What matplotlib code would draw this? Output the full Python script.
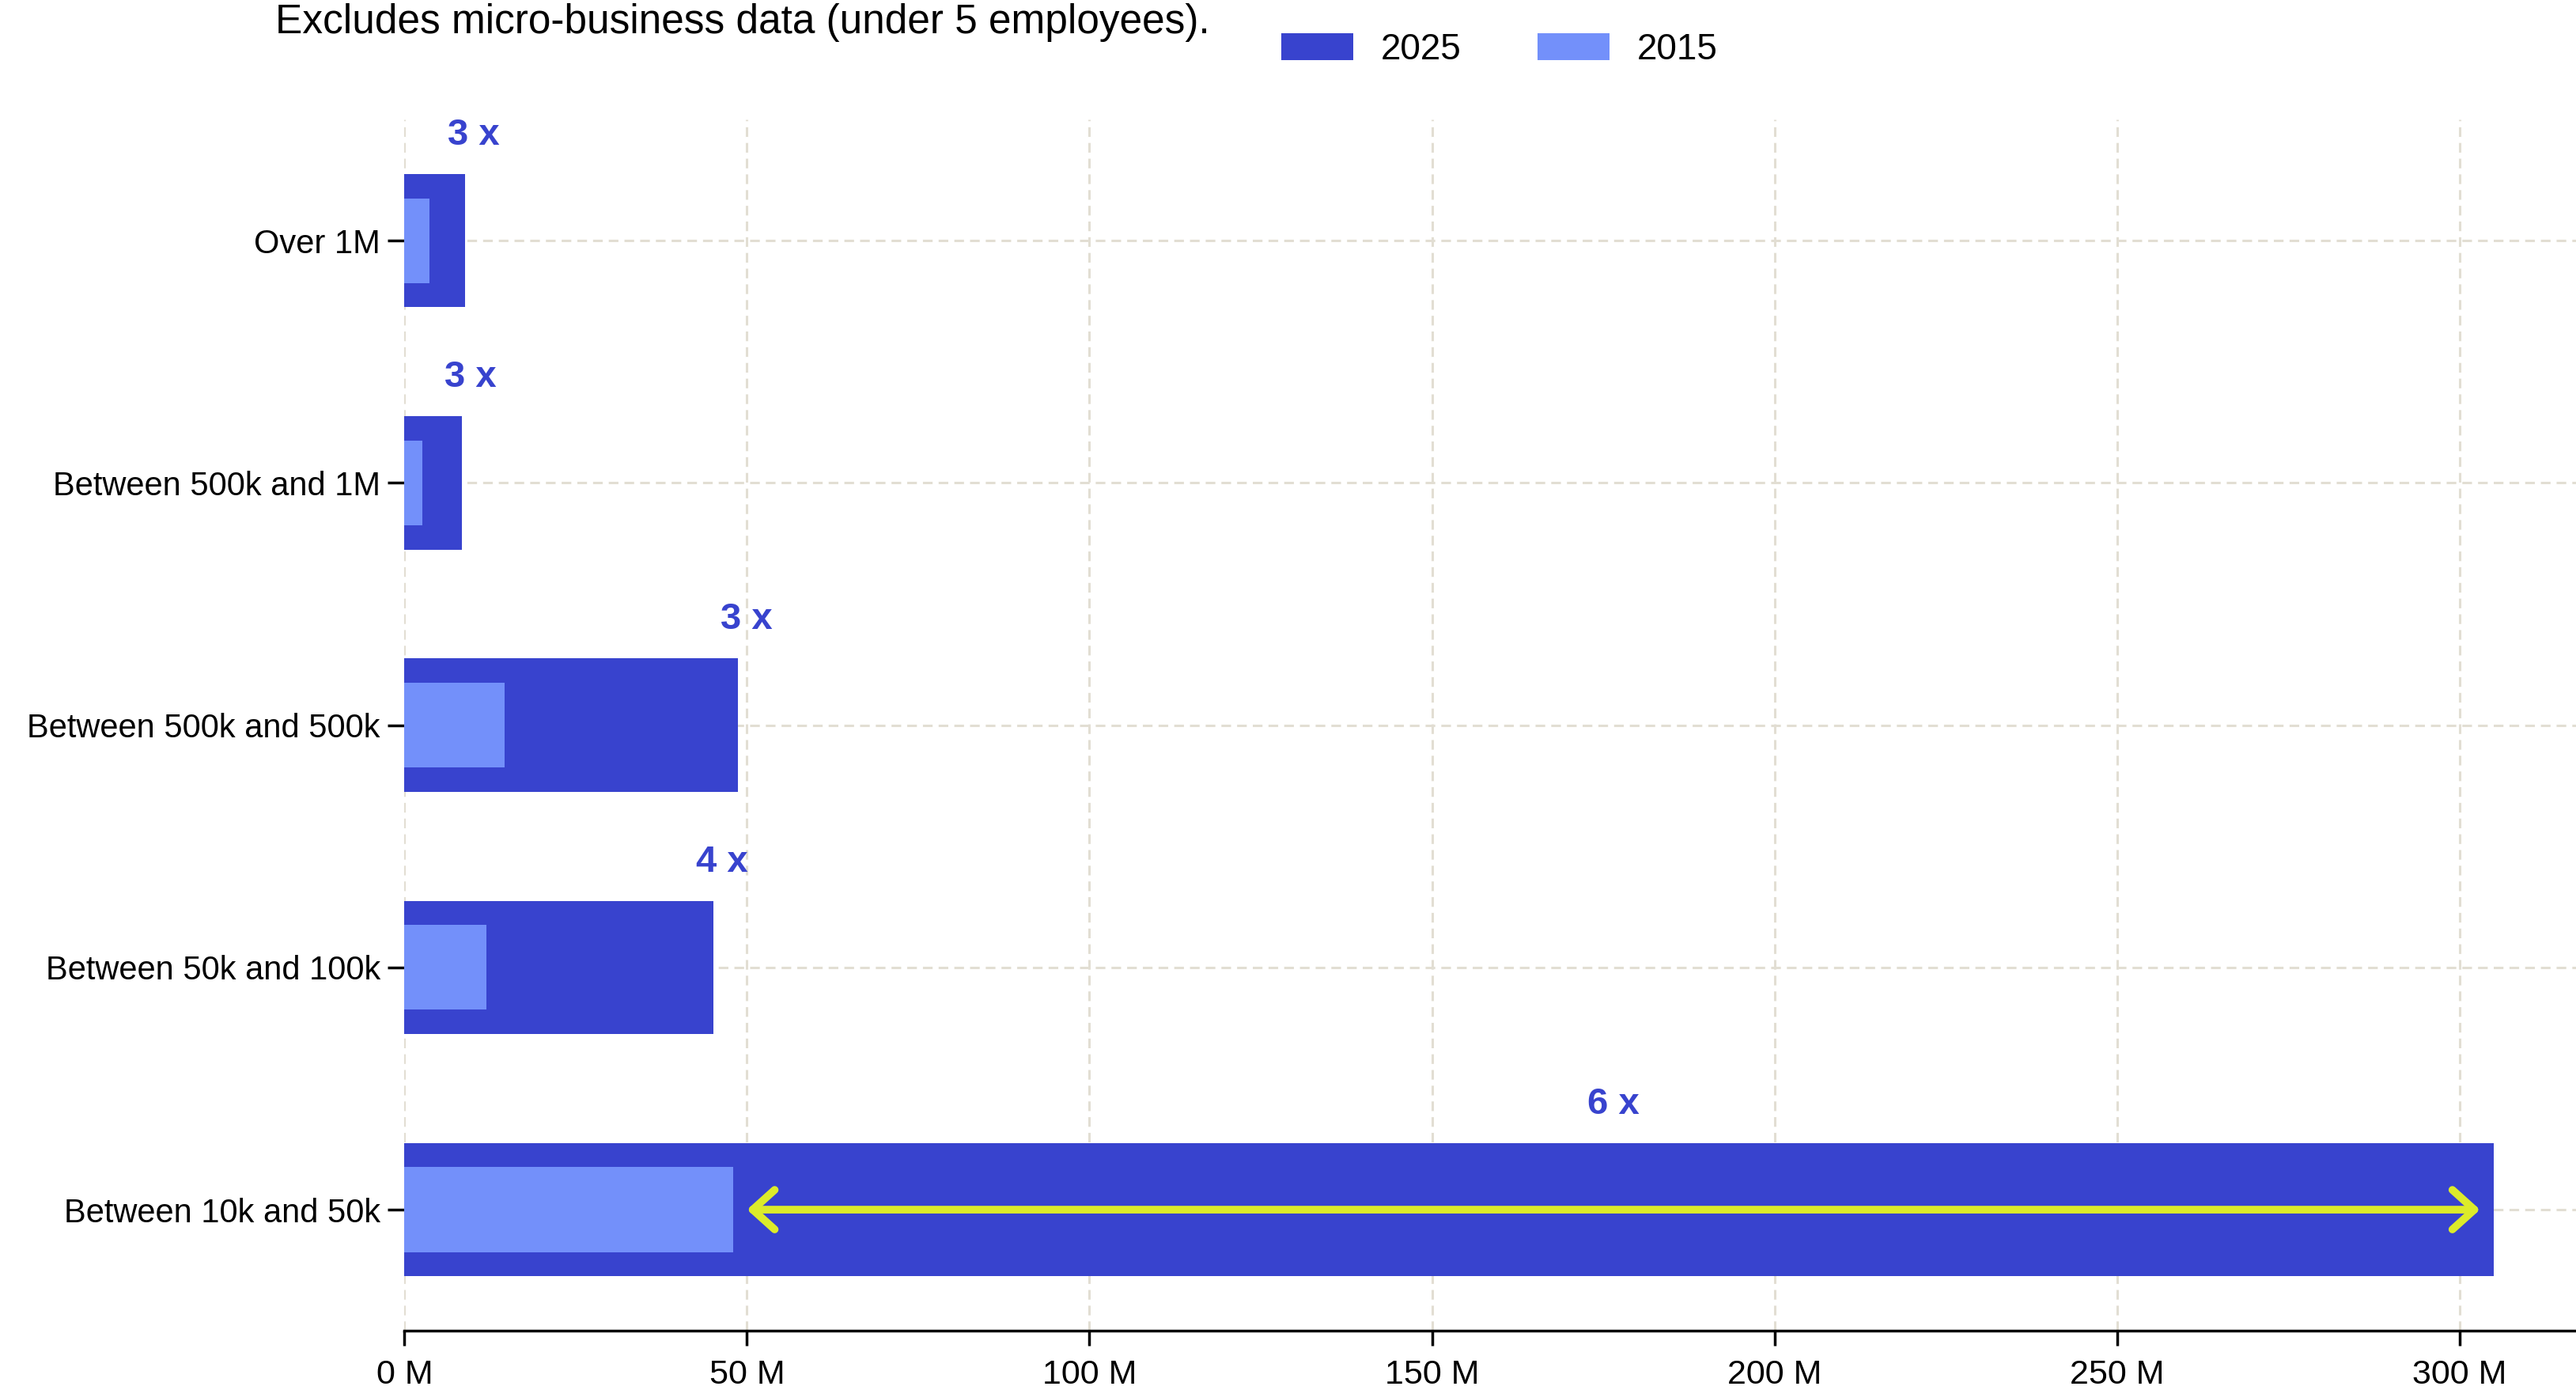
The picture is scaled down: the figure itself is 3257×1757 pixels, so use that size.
import numpy as np
import matplotlib
matplotlib.use('Agg')
import matplotlib.pyplot as plt

# revenue bands, top to bottom
bands = ["Over 1M", "Between 500k and 1M", "Between 500k and 500k",
         "Between 50k and 100k", "Between 10k and 50k"]
# values in millions
values_2025 = [8.9, 8.4, 48.7, 45.1, 305.0]
values_2015 = [3.6, 2.6, 14.6, 12.0, 48.0]
growth_labels = ["3 x", "3 x", "3 x", "4 x", "6 x"]
xticks = [0, 50, 100, 150, 200, 250, 300]

dark_blue = '#3843CE'
light_blue = '#7390FA'
arrow_color = '#DCEB2A'
grid_color = '#e2ded3'

plt.rcParams['font.family'] = ['Liberation Sans', 'DejaVu Sans']

fig = plt.figure(figsize=(32.57, 17.57), dpi=100)
ax = fig.add_axes([0.157, 0.0426, 0.843, 0.8714])

y = np.arange(len(bands))
ax.barh(y, values_2025, height=0.55, color=dark_blue, label='2025', zorder=3)
ax.barh(y, values_2015, height=0.35, color=light_blue, label='2015', zorder=4)

# growth multiple above each bar; the biggest band gets an arrow instead
for i, (v25, v15, lab) in enumerate(zip(values_2025, values_2015, growth_labels)):
    if v25 > 100:
        ax.annotate('', xy=(v25 - 2, i), xytext=(v15 + 2, i),
                    arrowprops=dict(arrowstyle='<->,head_length=0.5,head_width=0.45',
                                    color=arrow_color, lw=7, mutation_scale=40,
                                    shrinkA=0, shrinkB=0, capstyle='round',
                                    joinstyle='round'),
                    zorder=6)
        lx = (v25 + v15) / 2
    else:
        lx = v25 + 1.2
    ax.text(lx, i - 0.435, lab, ha='center', va='center', fontsize=34,
            fontweight='bold', color=dark_blue, zorder=6)

ax.set_ylim(4.5, -0.5)
ax.set_xlim(0, 317)
ax.set_yticks(y)
ax.set_yticklabels(bands)
ax.set_xticks(xticks)
ax.set_xticklabels(['%d M' % t for t in xticks])

ax.grid(True, color=grid_color, linestyle=(0, (4, 2.5)), linewidth=2.2, zorder=0)
ax.set_axisbelow(True)
for s in ['top', 'right', 'left']:
    ax.spines[s].set_visible(False)
ax.spines['bottom'].set_linewidth(2.5)
ax.tick_params(axis='y', length=15, width=2.5, pad=7, labelsize=30)
ax.tick_params(axis='x', length=14, width=2.5, pad=12, labelsize=31)

fig.text(0.107, 0.976, 'Excludes micro-business data (under 5 employees).',
         fontsize=37, ha='left', va='baseline')

fig.legend(loc='center', bbox_to_anchor=(0.582, 0.964), ncol=2, frameon=False,
           fontsize=33, handlelength=2.0, handleheight=0.75, handletextpad=0.75,
           columnspacing=2.1)

plt.savefig('out.png', dpi=100)
